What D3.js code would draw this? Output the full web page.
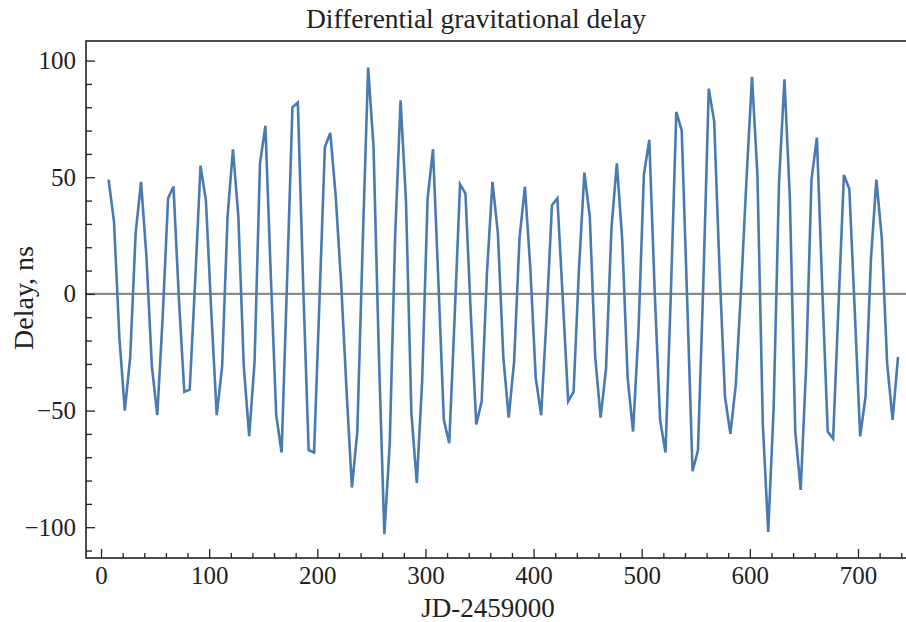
<!DOCTYPE html>
<html>
<head>
<meta charset="utf-8">
<script src="https://cdn.jsdelivr.net/npm/d3@7"></script>
<style>
  body { margin: 0; background: #fff; }
  svg { display: block; }
  text { font-family: "Liberation Serif", "Times New Roman", serif; fill: #222; }
</style>
</head>
<body>
<svg id="chart" width="906" height="622"></svg>
<script>
// JD - 2459000, sampled every 5 days
const days = [
  7, 12, 17, 22, 27, 32, 37, 42, 47, 52,
  57, 62, 67, 72, 77, 82, 87, 92, 97, 102,
  107, 112, 117, 122, 127, 132, 137, 142, 147, 152,
  157, 162, 167, 172, 177, 182, 187, 192, 197, 202,
  207, 212, 217, 222, 227, 232, 237, 242, 247, 252,
  257, 262, 267, 272, 277, 282, 287, 292, 297, 302,
  307, 312, 317, 322, 327, 332, 337, 342, 347, 352,
  357, 362, 367, 372, 377, 382, 387, 392, 397, 402,
  407, 412, 417, 422, 427, 432, 437, 442, 447, 452,
  457, 462, 467, 472, 477, 482, 487, 492, 497, 502,
  507, 512, 517, 522, 527, 532, 537, 542, 547, 552,
  557, 562, 567, 572, 577, 582, 587, 592, 597, 602,
  607, 612, 617, 622, 627, 632, 637, 642, 647, 652,
  657, 662, 667, 672, 677, 682, 687, 692, 697, 702,
  707, 712, 717, 722, 727, 732, 737
];

// differential delay, ns
const delayNs = [
  49, 31, -19, -50, -27, 26, 48, 16, -31, -52,
  -10, 41, 46, -2, -42, -41, 5, 55, 40, -8,
  -52, -31, 33, 62, 33, -31, -61, -29, 56, 72,
  8, -52, -68, 5, 80, 82, 3, -67, -68, -3,
  63, 69, 42, 5, -41, -83, -59, 22, 97, 63,
  -27, -103, -64, 25, 83, 40, -51, -81, -37, 41,
  62, 5, -54, -64, -10, 47, 43, -9, -56, -46,
  10, 48, 26, -27, -53, -29, 24, 46, 11, -36,
  -52, -10, 38, 41, -2, -46, -42, 11, 52, 33,
  -27, -53, -32, 28, 56, 23, -36, -59, -16, 51,
  66, 1, -54, -68, 1, 78, 70, -2, -76, -67,
  5, 88, 74, 10, -44, -60, -39, 3, 50, 93,
  51, -56, -102, -49, 48, 92, 41, -59, -84, -32,
  49, 67, 2, -59, -62, -5, 51, 45, -7, -61,
  -44, 15, 49, 24, -30, -54, -27
];

const xMajor = [0, 100, 200, 300, 400, 500, 600, 700];
const yMajor = [-100, -50, 0, 50, 100];

const titleText = "Differential gravitational delay";
const xLabel = "JD-2459000";
const yLabel = "Delay, ns";

const data = days.map((d, i) => ({ day: d, v: delayNs[i] }));

// plot frame in pixels
const plotLeft = 86, plotTop = 41, plotRight = 906, plotBottom = 558;

const x = d3.scaleLinear().domain([-13.9, 744.4]).range([plotLeft, plotRight]);
const y = d3.scaleLinear().domain([-113.2, 108.4]).range([plotBottom, plotTop]);

const svg = d3.select("#chart");

// zero line
svg.append("line")
  .attr("x1", plotLeft).attr("x2", plotRight)
  .attr("y1", y(0)).attr("y2", y(0))
  .style("stroke", "#8c8c8c")
  .style("stroke-width", 2.4);

// the series
const line = d3.line().x(d => x(d.day)).y(d => y(d.v));
svg.append("path")
  .datum(data)
  .attr("d", line)
  .style("fill", "none")
  .style("stroke", "#4a7bb0")
  .style("stroke-width", 2.6)
  .style("stroke-linejoin", "miter");

// axes with inward ticks
const xMinor = d3.range(0, 745, 20).filter(v => v % 100 !== 0);
const yMinor = d3.range(-110, 109, 10).filter(v => v % 50 !== 0);

const fmt = d => d < 0 ? "\u2212" + Math.abs(d) : d;

const gx = svg.append("g").attr("transform", `translate(0,${plotBottom})`);
gx.call(d3.axisBottom(x).tickValues(xMinor).tickSize(-5).tickFormat(""));
const gx2 = svg.append("g").attr("transform", `translate(0,${plotBottom})`);
gx2.call(d3.axisBottom(x).tickValues(xMajor).tickSize(-9).tickPadding(8).tickFormat(fmt));

const gy = svg.append("g").attr("transform", `translate(${plotLeft},0)`);
gy.call(d3.axisLeft(y).tickValues(yMinor).tickSize(-6).tickFormat(""));
const gy2 = svg.append("g").attr("transform", `translate(${plotLeft},0)`);
gy2.call(d3.axisLeft(y).tickValues(yMajor).tickSize(-9).tickPadding(10).tickFormat(fmt));

svg.selectAll(".domain").remove();
svg.selectAll(".tick line").style("stroke", "#222").style("stroke-width", 1.3);
svg.selectAll(".tick text")
  .style("font-size", "25px")
  .style("font-family", "'Liberation Serif', 'Times New Roman', serif")
  .style("fill", "#222");

// frame
svg.append("rect")
  .attr("x", plotLeft).attr("y", plotTop)
  .attr("width", plotRight - plotLeft + 4).attr("height", plotBottom - plotTop)
  .style("fill", "none")
  .style("stroke", "#222")
  .style("stroke-width", 1.6);

// titles
svg.append("text")
  .attr("x", 476).attr("y", 28)
  .attr("text-anchor", "middle")
  .style("font-size", "27.5px")
  .text(titleText);

svg.append("text")
  .attr("x", 488).attr("y", 617)
  .attr("text-anchor", "middle")
  .style("font-size", "27px")
  .text(xLabel);

svg.append("text")
  .attr("transform", "translate(33,298) rotate(-90)")
  .attr("text-anchor", "middle")
  .style("font-size", "28px")
  .text(yLabel);
</script>
</body>
</html>
